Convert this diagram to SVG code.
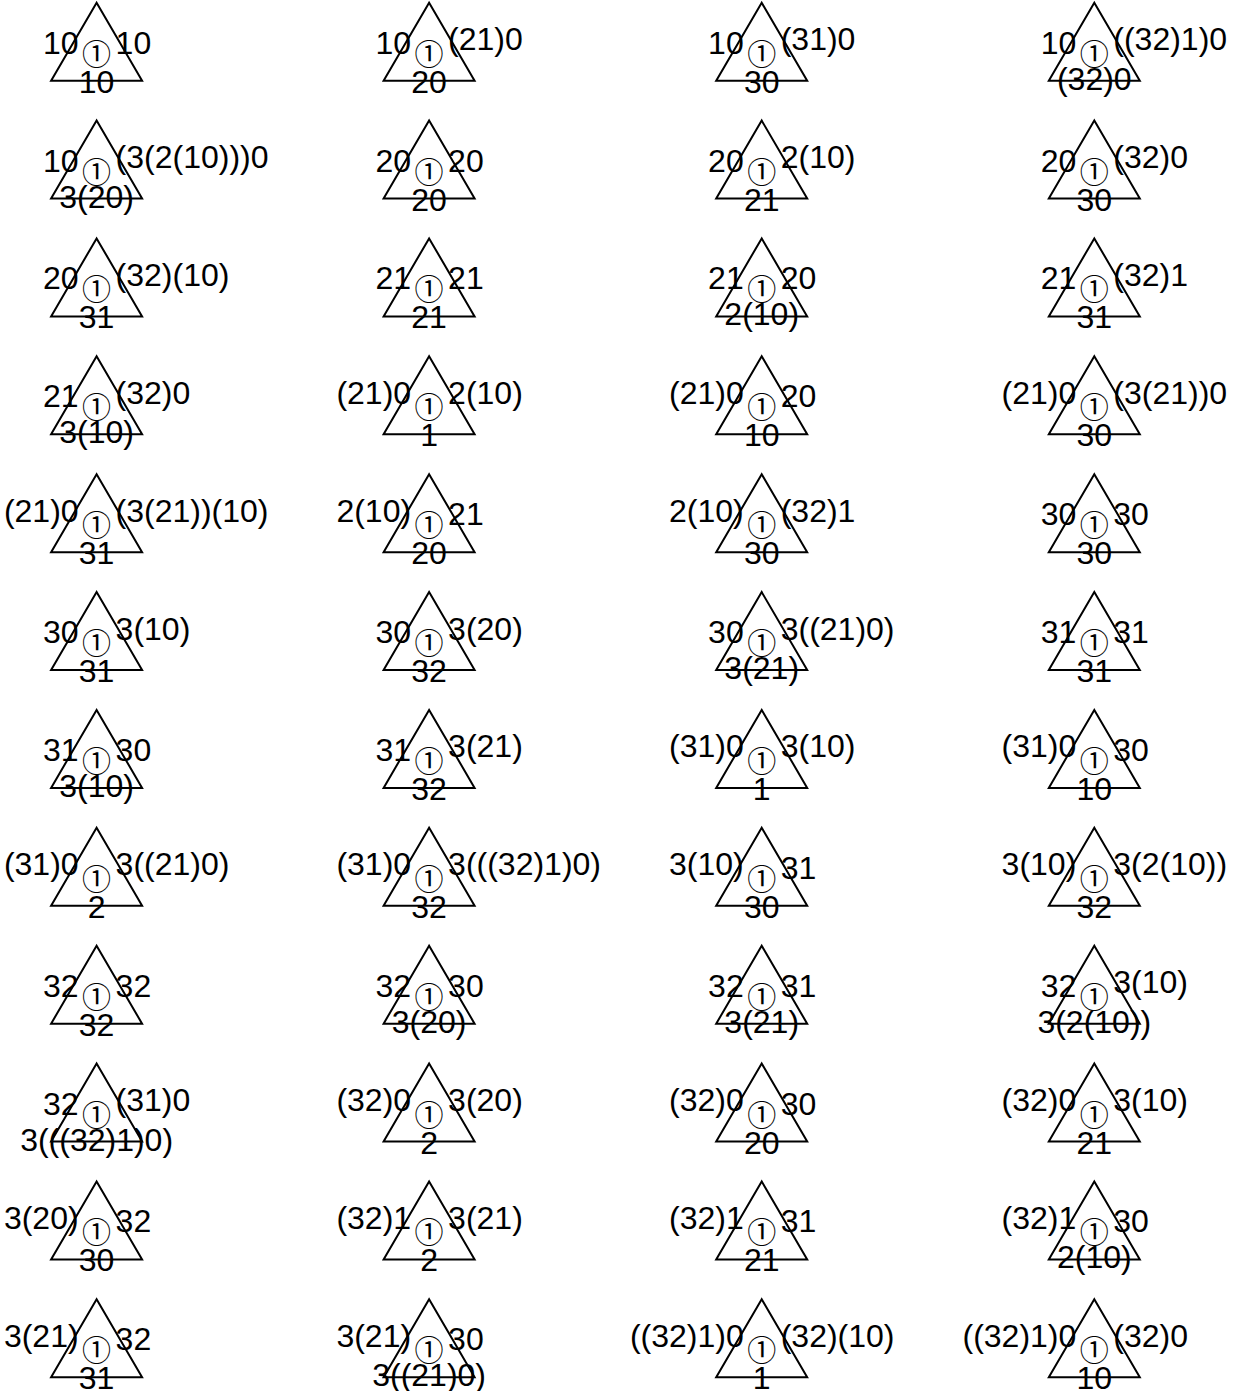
<svg xmlns="http://www.w3.org/2000/svg" xmlns:xlink="http://www.w3.org/1999/xlink" width="1245" height="1391" viewBox="0 0 1245 1391">
<style>
.t{fill:none;stroke:#000;stroke-width:2;stroke-linejoin:miter}
text{font-family:"Liberation Sans","DejaVu Sans",sans-serif;font-size:32px;fill:#000}
.l{text-anchor:end}
.r{text-anchor:start}
.b{text-anchor:middle}
.c{font-family:"Noto Sans CJK JP","DejaVu Sans",sans-serif;font-size:29px;text-anchor:middle;dominant-baseline:central}
</style>
<defs>
<polygon id="tri" class="t" points="0,0 -45.5,78 45.5,78"/>
</defs>
<rect width="1245" height="1391" fill="#fff"/>
<g id="connectors"/>
<!-- row 0 -->
<g id="n0_0" transform="translate(96.6,2.7)"><use href="#tri"/><text class="c" y="49">①</text><text class="l" x="-18" y="51">10</text><text class="r" x="19" y="51">10</text><text class="b" y="90">10</text></g>
<g id="n0_1" transform="translate(429.1,2.7)"><use href="#tri"/><text class="c" y="49">①</text><text class="l" x="-18" y="51">10</text><text class="r" x="19" y="47.5">(21)0</text><text class="b" y="90">20</text></g>
<g id="n0_2" transform="translate(761.7,2.7)"><use href="#tri"/><text class="c" y="49">①</text><text class="l" x="-18" y="51">10</text><text class="r" x="19" y="47.5">(31)0</text><text class="b" y="90">30</text></g>
<g id="n0_3" transform="translate(1094.3,2.7)"><use href="#tri"/><text class="c" y="49">①</text><text class="l" x="-18" y="51">10</text><text class="r" x="19" y="47.5">((32)1)0</text><text class="b" y="87">(32)0</text></g>
<!-- row 1 -->
<g id="n1_0" transform="translate(96.6,120.6)"><use href="#tri"/><text class="c" y="49">①</text><text class="l" x="-18" y="51">10</text><text class="r" x="19" y="47.5">(3(2(10)))0</text><text class="b" y="87">3(20)</text></g>
<g id="n1_1" transform="translate(429.1,120.6)"><use href="#tri"/><text class="c" y="49">①</text><text class="l" x="-18" y="51">20</text><text class="r" x="19" y="51">20</text><text class="b" y="90">20</text></g>
<g id="n1_2" transform="translate(761.7,120.6)"><use href="#tri"/><text class="c" y="49">①</text><text class="l" x="-18" y="51">20</text><text class="r" x="19" y="47.5">2(10)</text><text class="b" y="90">21</text></g>
<g id="n1_3" transform="translate(1094.3,120.6)"><use href="#tri"/><text class="c" y="49">①</text><text class="l" x="-18" y="51">20</text><text class="r" x="19" y="47.5">(32)0</text><text class="b" y="90">30</text></g>
<!-- row 2 -->
<g id="n2_0" transform="translate(96.6,238.4)"><use href="#tri"/><text class="c" y="49">①</text><text class="l" x="-18" y="51">20</text><text class="r" x="19" y="47.5">(32)(10)</text><text class="b" y="90">31</text></g>
<g id="n2_1" transform="translate(429.1,238.4)"><use href="#tri"/><text class="c" y="49">①</text><text class="l" x="-18" y="51">21</text><text class="r" x="19" y="51">21</text><text class="b" y="90">21</text></g>
<g id="n2_2" transform="translate(761.7,238.4)"><use href="#tri"/><text class="c" y="49">①</text><text class="l" x="-18" y="51">21</text><text class="r" x="19" y="51">20</text><text class="b" y="87">2(10)</text></g>
<g id="n2_3" transform="translate(1094.3,238.4)"><use href="#tri"/><text class="c" y="49">①</text><text class="l" x="-18" y="51">21</text><text class="r" x="19" y="47.5">(32)1</text><text class="b" y="90">31</text></g>
<!-- row 3 -->
<g id="n3_0" transform="translate(96.6,356.3)"><use href="#tri"/><text class="c" y="49">①</text><text class="l" x="-18" y="51">21</text><text class="r" x="19" y="47.5">(32)0</text><text class="b" y="87">3(10)</text></g>
<g id="n3_1" transform="translate(429.1,356.3)"><use href="#tri"/><text class="c" y="49">①</text><text class="l" x="-18" y="47.5">(21)0</text><text class="r" x="19" y="47.5">2(10)</text><text class="b" y="90">1</text></g>
<g id="n3_2" transform="translate(761.7,356.3)"><use href="#tri"/><text class="c" y="49">①</text><text class="l" x="-18" y="47.5">(21)0</text><text class="r" x="19" y="51">20</text><text class="b" y="90">10</text></g>
<g id="n3_3" transform="translate(1094.3,356.3)"><use href="#tri"/><text class="c" y="49">①</text><text class="l" x="-18" y="47.5">(21)0</text><text class="r" x="19" y="47.5">(3(21))0</text><text class="b" y="90">30</text></g>
<!-- row 4 -->
<g id="n4_0" transform="translate(96.6,474.2)"><use href="#tri"/><text class="c" y="49">①</text><text class="l" x="-18" y="47.5">(21)0</text><text class="r" x="19" y="47.5">(3(21))(10)</text><text class="b" y="90">31</text></g>
<g id="n4_1" transform="translate(429.1,474.2)"><use href="#tri"/><text class="c" y="49">①</text><text class="l" x="-18" y="47.5">2(10)</text><text class="r" x="19" y="51">21</text><text class="b" y="90">20</text></g>
<g id="n4_2" transform="translate(761.7,474.2)"><use href="#tri"/><text class="c" y="49">①</text><text class="l" x="-18" y="47.5">2(10)</text><text class="r" x="19" y="47.5">(32)1</text><text class="b" y="90">30</text></g>
<g id="n4_3" transform="translate(1094.3,474.2)"><use href="#tri"/><text class="c" y="49">①</text><text class="l" x="-18" y="51">30</text><text class="r" x="19" y="51">30</text><text class="b" y="90">30</text></g>
<!-- row 5 -->
<g id="n5_0" transform="translate(96.6,592.1)"><use href="#tri"/><text class="c" y="49">①</text><text class="l" x="-18" y="51">30</text><text class="r" x="19" y="47.5">3(10)</text><text class="b" y="90">31</text></g>
<g id="n5_1" transform="translate(429.1,592.1)"><use href="#tri"/><text class="c" y="49">①</text><text class="l" x="-18" y="51">30</text><text class="r" x="19" y="47.5">3(20)</text><text class="b" y="90">32</text></g>
<g id="n5_2" transform="translate(761.7,592.1)"><use href="#tri"/><text class="c" y="49">①</text><text class="l" x="-18" y="51">30</text><text class="r" x="19" y="47.5">3((21)0)</text><text class="b" y="87">3(21)</text></g>
<g id="n5_3" transform="translate(1094.3,592.1)"><use href="#tri"/><text class="c" y="49">①</text><text class="l" x="-18" y="51">31</text><text class="r" x="19" y="51">31</text><text class="b" y="90">31</text></g>
<!-- row 6 -->
<g id="n6_0" transform="translate(96.6,709.9)"><use href="#tri"/><text class="c" y="49">①</text><text class="l" x="-18" y="51">31</text><text class="r" x="19" y="51">30</text><text class="b" y="87">3(10)</text></g>
<g id="n6_1" transform="translate(429.1,709.9)"><use href="#tri"/><text class="c" y="49">①</text><text class="l" x="-18" y="51">31</text><text class="r" x="19" y="47.5">3(21)</text><text class="b" y="90">32</text></g>
<g id="n6_2" transform="translate(761.7,709.9)"><use href="#tri"/><text class="c" y="49">①</text><text class="l" x="-18" y="47.5">(31)0</text><text class="r" x="19" y="47.5">3(10)</text><text class="b" y="90">1</text></g>
<g id="n6_3" transform="translate(1094.3,709.9)"><use href="#tri"/><text class="c" y="49">①</text><text class="l" x="-18" y="47.5">(31)0</text><text class="r" x="19" y="51">30</text><text class="b" y="90">10</text></g>
<!-- row 7 -->
<g id="n7_0" transform="translate(96.6,827.8)"><use href="#tri"/><text class="c" y="49">①</text><text class="l" x="-18" y="47.5">(31)0</text><text class="r" x="19" y="47.5">3((21)0)</text><text class="b" y="90">2</text></g>
<g id="n7_1" transform="translate(429.1,827.8)"><use href="#tri"/><text class="c" y="49">①</text><text class="l" x="-18" y="47.5">(31)0</text><text class="r" x="19" y="47.5">3(((32)1)0)</text><text class="b" y="90">32</text></g>
<g id="n7_2" transform="translate(761.7,827.8)"><use href="#tri"/><text class="c" y="49">①</text><text class="l" x="-18" y="47.5">3(10)</text><text class="r" x="19" y="51">31</text><text class="b" y="90">30</text></g>
<g id="n7_3" transform="translate(1094.3,827.8)"><use href="#tri"/><text class="c" y="49">①</text><text class="l" x="-18" y="47.5">3(10)</text><text class="r" x="19" y="47.5">3(2(10))</text><text class="b" y="90">32</text></g>
<!-- row 8 -->
<g id="n8_0" transform="translate(96.6,945.7)"><use href="#tri"/><text class="c" y="49">①</text><text class="l" x="-18" y="51">32</text><text class="r" x="19" y="51">32</text><text class="b" y="90">32</text></g>
<g id="n8_1" transform="translate(429.1,945.7)"><use href="#tri"/><text class="c" y="49">①</text><text class="l" x="-18" y="51">32</text><text class="r" x="19" y="51">30</text><text class="b" y="87">3(20)</text></g>
<g id="n8_2" transform="translate(761.7,945.7)"><use href="#tri"/><text class="c" y="49">①</text><text class="l" x="-18" y="51">32</text><text class="r" x="19" y="51">31</text><text class="b" y="87">3(21)</text></g>
<g id="n8_3" transform="translate(1094.3,945.7)"><use href="#tri"/><text class="c" y="49">①</text><text class="l" x="-18" y="51">32</text><text class="r" x="19" y="47.5">3(10)</text><text class="b" y="87">3(2(10))</text></g>
<!-- row 9 -->
<g id="n9_0" transform="translate(96.6,1063.5)"><use href="#tri"/><text class="c" y="49">①</text><text class="l" x="-18" y="51">32</text><text class="r" x="19" y="47.5">(31)0</text><text class="b" y="87">3(((32)1)0)</text></g>
<g id="n9_1" transform="translate(429.1,1063.5)"><use href="#tri"/><text class="c" y="49">①</text><text class="l" x="-18" y="47.5">(32)0</text><text class="r" x="19" y="47.5">3(20)</text><text class="b" y="90">2</text></g>
<g id="n9_2" transform="translate(761.7,1063.5)"><use href="#tri"/><text class="c" y="49">①</text><text class="l" x="-18" y="47.5">(32)0</text><text class="r" x="19" y="51">30</text><text class="b" y="90">20</text></g>
<g id="n9_3" transform="translate(1094.3,1063.5)"><use href="#tri"/><text class="c" y="49">①</text><text class="l" x="-18" y="47.5">(32)0</text><text class="r" x="19" y="47.5">3(10)</text><text class="b" y="90">21</text></g>
<!-- row 10 -->
<g id="n10_0" transform="translate(96.6,1181.4)"><use href="#tri"/><text class="c" y="49">①</text><text class="l" x="-18" y="47.5">3(20)</text><text class="r" x="19" y="51">32</text><text class="b" y="90">30</text></g>
<g id="n10_1" transform="translate(429.1,1181.4)"><use href="#tri"/><text class="c" y="49">①</text><text class="l" x="-18" y="47.5">(32)1</text><text class="r" x="19" y="47.5">3(21)</text><text class="b" y="90">2</text></g>
<g id="n10_2" transform="translate(761.7,1181.4)"><use href="#tri"/><text class="c" y="49">①</text><text class="l" x="-18" y="47.5">(32)1</text><text class="r" x="19" y="51">31</text><text class="b" y="90">21</text></g>
<g id="n10_3" transform="translate(1094.3,1181.4)"><use href="#tri"/><text class="c" y="49">①</text><text class="l" x="-18" y="47.5">(32)1</text><text class="r" x="19" y="51">30</text><text class="b" y="87">2(10)</text></g>
<!-- row 11 -->
<g id="n11_0" transform="translate(96.6,1299.3)"><use href="#tri"/><text class="c" y="49">①</text><text class="l" x="-18" y="47.5">3(21)</text><text class="r" x="19" y="51">32</text><text class="b" y="90">31</text></g>
<g id="n11_1" transform="translate(429.1,1299.3)"><use href="#tri"/><text class="c" y="49">①</text><text class="l" x="-18" y="47.5">3(21)</text><text class="r" x="19" y="51">30</text><text class="b" y="87">3((21)0)</text></g>
<g id="n11_2" transform="translate(761.7,1299.3)"><use href="#tri"/><text class="c" y="49">①</text><text class="l" x="-18" y="47.5">((32)1)0</text><text class="r" x="19" y="47.5">(32)(10)</text><text class="b" y="90">1</text></g>
<g id="n11_3" transform="translate(1094.3,1299.3)"><use href="#tri"/><text class="c" y="49">①</text><text class="l" x="-18" y="47.5">((32)1)0</text><text class="r" x="19" y="47.5">(32)0</text><text class="b" y="90">10</text></g>
</svg>
